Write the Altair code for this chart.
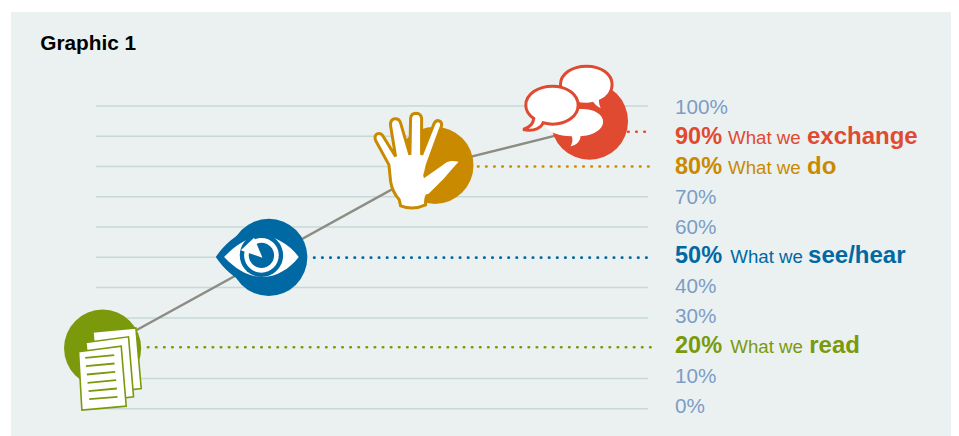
import re
import altair as alt
import pandas as pd

# ---------- data ----------
grid_pct = [100, 90, 80, 70, 60, 50, 40, 30, 20, 10, 0]
grid_end = [100, 60, 55, 100, 100, 33, 100, 100, 5, 100, 100]

line_x = [1.2, 31.3, 61.4, 89.4]
line_y = [19.8, 50, 80.3, 93]

names = ["read", "see/hear", "do", "exchange"]
colors = ["#7A9A0B", "#0069A3", "#C98A00", "#E04A30"]
icon_x = [1.2, 31.3, 61.4, 89.4]
icon_y = [20, 50, 80.4, 95]
dot_start = [9.4, 39.5, 69.2, 96.4]
dot_end = [100.7, 100.7, 100.7, 100.7]
dot_y = [20.3, 49.9, 80, 91.5]

axis_labels = ["100%", "70%", "60%", "40%", "30%", "10%", "0%"]
axis_label_y = [97.4, 67.6, 57.7, 38.2, 28.3, 8.5, -1.4]
value_labels = ["20%", "50%", "80%", "90%"]
word_labels = ["read", "see/hear", "do", "exchange"]
value_label_y = [18.4, 48.2, 77.5, 87.4]
label_x = 104.9
what_x = [114.9, 114.9, 114.5, 114.5]
word_x = [129.2, 129.0, 128.8, 128.8]

# ---------- scales ----------
W, H = 943, 428
x_s = alt.Scale(domain=[-15.94, 154.89], nice=False, zero=False)
y_s = alt.Scale(domain=[-9.02, 132.38], nice=False, zero=False)
X = alt.X("x:Q", scale=x_s, axis=None)
Y = alt.Y("y:Q", scale=y_s, axis=None)


# ---------- glyph helpers ----------
def shift(path, ox, oy, cx, cy):
    toks = re.findall(r"[MLCQZ]|-?\d+\.?\d*", path)
    out, is_x = [], True
    for t in toks:
        if t in "MLCQZ":
            out.append(t)
            is_x = True
        else:
            v = float(t)
            out.append(f"{(ox + v / 3 - cx) if is_x else (oy + v / 3 - cy):.2f}")
            is_x = not is_x
    return " ".join(out)


def oval(cx, cy, rx, ry):
    k = 0.5523
    return (
        f"M{cx + rx} {cy} C{cx + rx} {cy + k * ry} {cx + k * rx} {cy + ry} {cx} {cy + ry} "
        f"C{cx - k * rx} {cy + ry} {cx - rx} {cy + k * ry} {cx - rx} {cy} "
        f"C{cx - rx} {cy - k * ry} {cx - k * rx} {cy - ry} {cx} {cy - ry} "
        f"C{cx + k * rx} {cy - ry} {cx + rx} {cy - k * ry} {cx + rx} {cy} Z"
    )


def glyph(i, path, org, fill=None, stroke=None, sw=0):
    d = shift(path, org[0], org[1], PIX[i][0], PIX[i][1])
    kw = dict(shape=d, size=4, opacity=1)
    if fill:
        kw.update(filled=True, fill=fill, fillOpacity=1)
    else:
        kw.update(filled=False, fillOpacity=0)
    if stroke:
        kw.update(stroke=stroke, strokeWidth=sw, strokeOpacity=1, strokeJoin="miter")
    else:
        kw.update(strokeWidth=0)
    return (
        alt.Chart(pd.DataFrame({"x": [icon_x[i]], "y": [icon_y[i]]}))
        .mark_point(**kw)
        .encode(x=X, y=Y)
    )


PIX = [(102.4, 348), (269, 257), (435, 165.5), (589.7, 121)]
DOC, EYE, HAND = (40, 250), (200, 200), (360, 50)
G, B, O, R = colors

glyphs = [
    # documents
    glyph(0, "M158 245 L287 233 L303 415 L175 430 Z", DOC, "white", G, 1.6),
    glyph(0, "M137 277 L265 260 L280 440 L155 455 Z", DOC, "white", G, 1.6),
    glyph(0, "M115 305 L243 288 L258 468 L125 480 Z", DOC, "white", G, 1.6),
    glyph(
        0,
        "M135 323 L222 315 M137 348 L223 340 M140 373 L225 365 "
        "M142 398 L228 390 M145 423 L230 415 M147 447 L232 440",
        DOC, None, G, 1.8,
    ),
    # eye
    glyph(1, "M48 170 C75 130 105 110 135 90 L160 200 L135 250 C105 232 75 210 48 170 Z", EYE, B),
    glyph(1, "M73 170 C115 125 155 108 190 108 C230 108 270 135 297 170 C270 205 230 230 190 230 C155 230 115 215 73 170 Z", EYE, "white"),
    glyph(1, oval(185, 165, 65, 65), EYE, B),
    glyph(1, oval(185, 165, 52, 52), EYE, "white"),
    glyph(1, oval(185, 165, 38, 38), EYE, B),
    glyph(1, "M123 150 L163 112 L188 172 Z", EYE, "white"),
    # hand
    glyph(
        2,
        "M122 468 L118 450 C105 435 95 415 92 395 L87 345 L47 272 Q42 258 52 252 Q63 248 70 260 "
        "L107 320 L92 228 Q90 210 104 207 Q118 206 122 220 L150 315 L152 205 Q154 190 168 190 "
        "Q184 191 185 206 L185 315 L222 222 Q228 210 238 213 Q248 218 244 230 L202 345 Q198 365 192 385 "
        "L250 345 Q265 330 295 338 Q270 360 250 385 L205 430 Q195 445 197 465 Q160 482 122 468 Z",
        HAND, "white", O, 3,
    ),
    glyph(2, "M180 340 L192 385 L250 345 Q265 328 296 336 Q272 362 252 386 L206 432 L150 445 Z", HAND, "white"),
    # speech bubbles
    glyph(
        3,
        "M680 48 C725 48 757 72 757 103 C757 125 742 143 722 152 C722 165 727 175 735 182 "
        "C718 180 705 170 698 160 C690 162 685 162 680 162 C635 162 602 135 602 103 C602 72 635 48 680 48 Z",
        HAND, "white", R, 3,
    ),
    glyph(
        3,
        "M650 178 C695 172 730 190 730 215 C730 240 695 258 662 258 C662 272 650 285 632 288 "
        "C640 275 638 265 636 258 C595 258 565 245 555 225 Z",
        HAND, "white",
    ),
    glyph(
        3,
        "M578 108 C620 108 655 132 655 165 C655 198 620 222 578 222 C568 222 558 220 550 218 "
        "C545 232 525 245 490 238 C510 232 520 222 522 205 C508 195 498 182 498 165 C498 132 535 108 578 108 Z",
        HAND, "white", R, 3,
    ),
]

# ---------- layers ----------
FONT = "Liberation Sans"
panel = alt.Chart(pd.DataFrame({"a": [0]})).mark_rect(color="#EBF1F1").encode(
    x=alt.value(3), x2=alt.value(W), y=alt.value(4), y2=alt.value(H)
)
title = alt.Chart(pd.DataFrame({"x": [-10.1], "y": [118.6], "t": ["Graphic 1"]})).mark_text(
    font=FONT, fontSize=20.8, fontWeight="bold", align="left", baseline="alphabetic", color="#000000"
).encode(x=X, y=Y, text="t:N")

grid = alt.Chart(pd.DataFrame({"y": grid_pct, "x": [0] * len(grid_pct), "x2": grid_end})).mark_rule(
    color="#C6D9D5", strokeWidth=1.5
).encode(x=X, x2="x2:Q", y=Y)

link = alt.Chart(pd.DataFrame({"x": line_x, "y": line_y})).mark_line(
    color="#8C8C84", strokeWidth=2.4
).encode(x=X, y=Y)

dots = alt.Chart(
    pd.DataFrame({"x": dot_start, "x2": dot_end, "y": dot_y, "n": names})
).mark_rule(strokeWidth=2.6, strokeDash=[0.5, 7.6], strokeCap="round").encode(
    x=X, x2="x2:Q", y=Y,
    color=alt.Color("n:N", scale=alt.Scale(domain=names, range=colors), legend=None),
)

circles = alt.Chart(pd.DataFrame({"x": icon_x, "y": icon_y, "n": names})).mark_point(
    shape="circle", filled=True, size=5950, opacity=1, strokeWidth=0
).encode(
    x=X, y=Y, fill=alt.Fill("n:N", scale=alt.Scale(domain=names, range=colors), legend=None)
)

axis_txt = alt.Chart(
    pd.DataFrame({"x": [label_x] * len(axis_labels), "y": axis_label_y, "t": axis_labels})
).mark_text(font=FONT, fontSize=20.7, align="left", baseline="alphabetic", color="#7C9DC5").encode(
    x=X, y=Y, text="t:N"
)

col = alt.Color("n:N", scale=alt.Scale(domain=names, range=colors), legend=None)
pct_txt = alt.Chart(
    pd.DataFrame({"x": [label_x] * 4, "y": value_label_y, "t": value_labels, "n": names})
).mark_text(font=FONT, fontSize=23.5, fontWeight="bold", align="left", baseline="alphabetic").encode(
    x=X, y=Y, text="t:N", color=col
)
what_txt = alt.Chart(
    pd.DataFrame({"x": what_x, "y": value_label_y, "t": ["What we"] * 4, "n": names})
).mark_text(font=FONT, fontSize=18.7, align="left", baseline="alphabetic").encode(
    x=X, y=Y, text="t:N", color=col
)
word_txt = alt.Chart(
    pd.DataFrame({"x": word_x, "y": value_label_y, "t": word_labels, "n": names})
).mark_text(font=FONT, fontSize=24, fontWeight="bold", align="left", baseline="alphabetic").encode(
    x=X, y=Y, text="t:N", color=col
)

chart = (
    alt.layer(panel, title, grid, link, dots, circles, *glyphs, axis_txt, pct_txt, what_txt, word_txt)
    .resolve_scale(color="shared")
    .properties(width=W, height=H, padding=0, autosize=alt.AutoSizeParams(type="none"), background="white")
    .configure_view(stroke=None)
)
chart.save("out.html", embed_options={"renderer": "svg", "actions": False})
